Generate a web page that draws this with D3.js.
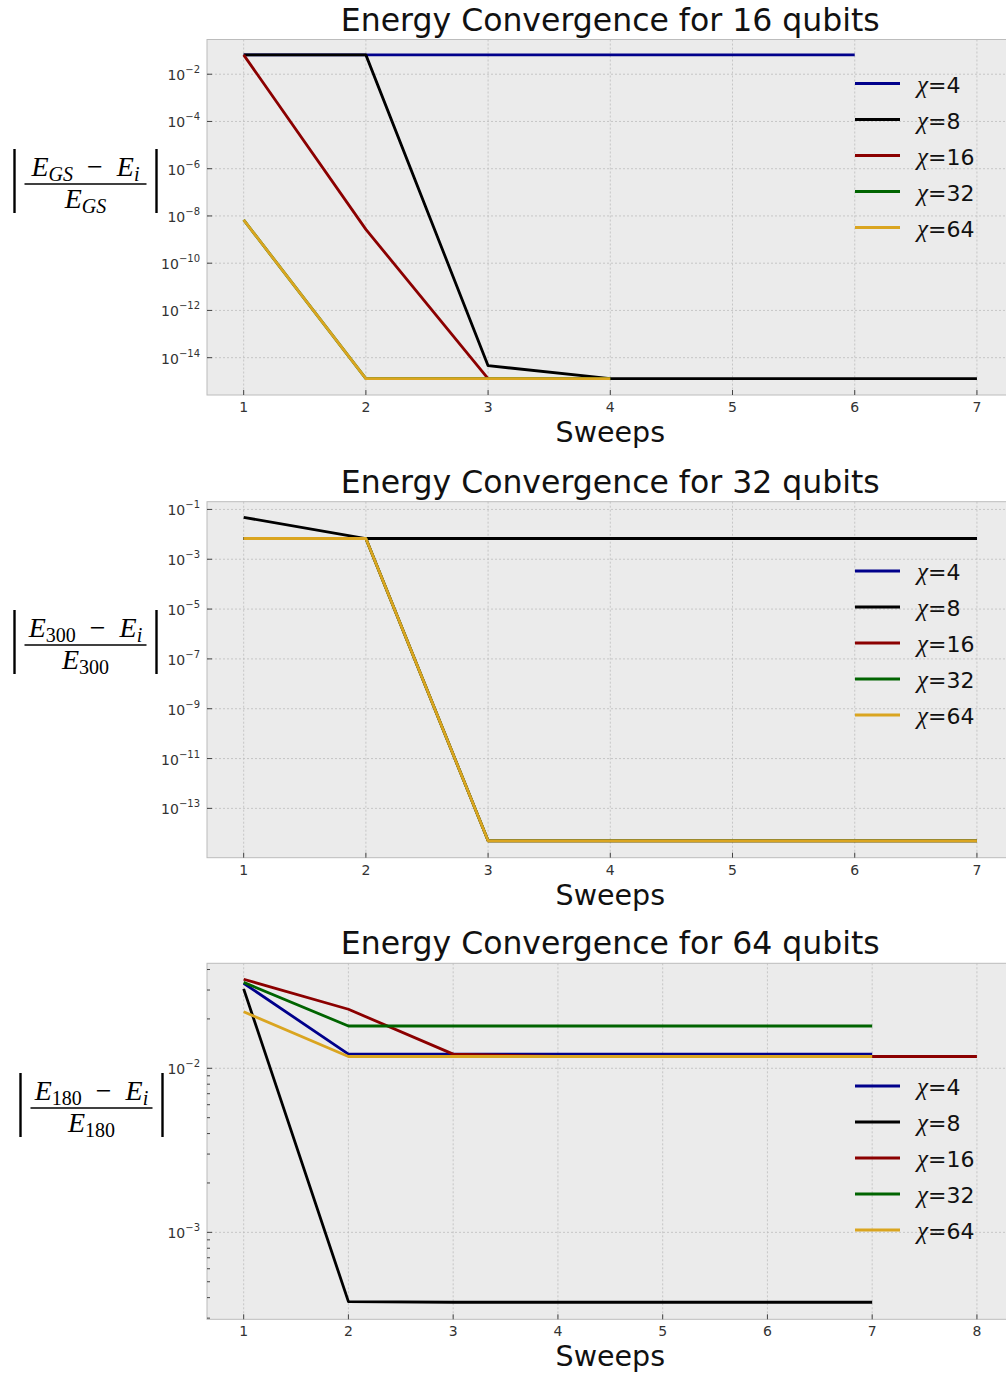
<!DOCTYPE html>
<html>
<head>
<meta charset="utf-8">
<script src="https://cdn.jsdelivr.net/npm/d3@7"></script>
<style>
  body { margin: 0; background: #fff; }
  svg { display: block; }
  .tick-label { font-family: "DejaVu Sans", sans-serif; font-size: 14px; fill: #333; }
</style>
</head>
<body>
<svg id="chart" width="1006" height="1376"></svg>
<script>
// bond dimensions and colours of the series
const chiValues = [4, 8, 16, 32, 64];
const seriesColors = ["#00008b", "#000000", "#8b0000", "#006400", "#daa520"];

// 16 qubits, relative error vs sweep (sweeps start at 1)
const q16_chi4  = [0.066, 0.066, 0.066, 0.066, 0.066, 0.066];
const q16_chi8  = [0.066, 0.066, 4.6e-15, 1.3e-15, 1.3e-15, 1.3e-15, 1.3e-15];
const q16_chi16 = [0.066, 2.7e-9, 1.3e-15];
const q16_chi32 = [6.8e-9, 1.3e-15, 1.3e-15, 1.3e-15];
const q16_chi64 = [6.8e-9, 1.3e-15, 1.3e-15, 1.3e-15];

// 32 qubits
const q32_chi4  = [0.0068, 0.0068, 0.0068, 0.0068, 0.0068, 0.0068, 0.0068];
const q32_chi8  = [0.048, 0.0068, 0.0068, 0.0068, 0.0068, 0.0068, 0.0068];
const q32_chi16 = [0.0068, 0.0068, 5e-15, 5e-15, 5e-15, 5e-15, 5e-15];
const q32_chi32 = [0.0068, 0.0068, 5e-15, 5e-15, 5e-15, 5e-15, 5e-15];
const q32_chi64 = [0.0068, 0.0068, 5e-15, 5e-15, 5e-15, 5e-15, 5e-15];

// 64 qubits
const q64_chi4  = [0.033, 0.0122, 0.0122, 0.0122, 0.0122, 0.0122, 0.0122];
const q64_chi8  = [0.0305, 3.78e-4, 3.75e-4, 3.75e-4, 3.75e-4, 3.75e-4, 3.75e-4];
const q64_chi16 = [0.0349, 0.0229, 0.0122, 0.0118, 0.0118, 0.0118, 0.0118, 0.0118];
const q64_chi32 = [0.0334, 0.0181, 0.0181, 0.0181, 0.0181, 0.0181, 0.0181];
const q64_chi64 = [0.0221, 0.0118, 0.0118, 0.0118, 0.0118, 0.0118, 0.0118];

const qubitCounts = [16, 32, 64];
const xTicks16 = [1, 2, 3, 4, 5, 6, 7];
const xTicks64 = [1, 2, 3, 4, 5, 6, 7, 8];
const yExpMajor16 = [-2, -4, -6, -8, -10, -12, -14];
const yExpMajor32 = [-1, -3, -5, -7, -9, -11, -13];
const yExpMajor64 = [-2, -3];
const labelSubscripts = ["GS", "300", "180"];

class ConvergencePlot {
    constructor(_config, _series) {
        this.config = {
            svg: _config.svg,
            id: _config.id,
            left: 207,
            right: 1013.6,
            top: _config.top,
            bottom: _config.bottom,
            xDomain: _config.xDomain,
            yDomain: _config.yDomain,
            xTicks: _config.xTicks,
            yMajor: _config.yMajor,
            yMinor: _config.yMinor || [],
            title: _config.title,
            sub: _config.sub,
            labelX: _config.labelX,
            labelY: _config.labelY,
            legendTop: _config.legendTop
        };
        this.series = _series;
        this.initVis();
        this.renderVis();
    }

    initVis() {
        let vis = this;
        let c = vis.config;
        vis.x = d3.scaleLinear().domain(c.xDomain).range([c.left, c.right]);
        vis.y = d3.scaleLog().domain(c.yDomain).range([c.bottom, c.top]);
        vis.g = c.svg.append("g");
        vis.g.append("defs").append("clipPath").attr("id", "clip" + c.id)
            .append("rect")
            .attr("x", c.left).attr("y", c.top)
            .attr("width", c.right - c.left).attr("height", c.bottom - c.top);
    }

    renderVis() {
        let vis = this;
        let c = vis.config;
        let g = vis.g;

        g.append("rect")
            .attr("x", c.left).attr("y", c.top)
            .attr("width", c.right - c.left).attr("height", c.bottom - c.top)
            .attr("fill", "#ebebeb").attr("stroke", "#bcbcbc").attr("stroke-width", 1);

        // grid
        g.append("g").selectAll("line").data(c.xTicks).join("line")
            .attr("x1", d => vis.x(d)).attr("x2", d => vis.x(d))
            .attr("y1", c.top).attr("y2", c.bottom)
            .attr("stroke", "#bdbdbd").attr("stroke-width", 0.8).attr("stroke-dasharray", "2,2");
        g.append("g").selectAll("line").data(c.yMajor).join("line")
            .attr("x1", c.left).attr("x2", c.right)
            .attr("y1", d => vis.y(Math.pow(10, d))).attr("y2", d => vis.y(Math.pow(10, d)))
            .attr("stroke", "#bdbdbd").attr("stroke-width", 0.8).attr("stroke-dasharray", "2,2");

        // ticks (inward)
        g.append("g").selectAll("line").data(c.xTicks).join("line")
            .attr("x1", d => vis.x(d)).attr("x2", d => vis.x(d))
            .attr("y1", c.bottom).attr("y2", c.bottom - 5)
            .attr("stroke", "#444").attr("stroke-width", 1);
        g.append("g").selectAll("line").data(c.yMajor).join("line")
            .attr("x1", c.left).attr("x2", c.left + 5)
            .attr("y1", d => vis.y(Math.pow(10, d))).attr("y2", d => vis.y(Math.pow(10, d)))
            .attr("stroke", "#444").attr("stroke-width", 1);
        g.append("g").selectAll("line").data(c.yMinor).join("line")
            .attr("x1", c.left).attr("x2", c.left + 3)
            .attr("y1", d => vis.y(d)).attr("y2", d => vis.y(d))
            .attr("stroke", "#444").attr("stroke-width", 1);

        // tick labels
        g.append("g").selectAll("text").data(c.xTicks).join("text")
            .attr("class", "tick-label")
            .attr("x", d => vis.x(d)).attr("y", c.bottom + 17)
            .attr("text-anchor", "middle")
            .text(d => d);
        let yl = g.append("g").selectAll("text").data(c.yMajor).join("text")
            .attr("class", "tick-label")
            .attr("x", c.left - 7).attr("y", d => vis.y(Math.pow(10, d)) + 6)
            .attr("text-anchor", "end");
        yl.append("tspan").text("10");
        yl.append("tspan").attr("dy", -7).style("font-size", "10px").text(d => "\u2212" + Math.abs(d));

        // data lines
        let line = d3.line().x((d, i) => vis.x(i + 1)).y(d => vis.y(d));
        g.append("g").attr("clip-path", "url(#clip" + c.id + ")")
            .selectAll("path").data(vis.series).join("path")
            .attr("d", d => line(d))
            .attr("fill", "none")
            .attr("stroke", (d, i) => seriesColors[i])
            .attr("stroke-width", 2.8)
            .attr("stroke-linejoin", "round");

        // title and x label
        g.append("text")
            .attr("x", (c.left + c.right) / 2).attr("y", c.top - 9)
            .attr("text-anchor", "middle")
            .style("font-family", "DejaVu Sans").style("font-size", "31.5px").attr("fill", "#111")
            .text(c.title);
        g.append("text")
            .attr("x", (c.left + c.right) / 2).attr("y", c.bottom + 47)
            .attr("text-anchor", "middle")
            .style("font-family", "DejaVu Sans").style("font-size", "28.5px").attr("fill", "#111")
            .text("Sweeps");

        // legend
        let leg = g.append("g").selectAll("g").data(chiValues).join("g")
            .attr("transform", (d, i) => `translate(855,${c.legendTop + i * 36})`);
        leg.append("line").attr("x1", 0).attr("x2", 45)
            .attr("stroke", (d, i) => seriesColors[i]).attr("stroke-width", 2.8);
        let lt = leg.append("text").attr("x", 62).attr("y", 9)
            .style("font-family", "DejaVu Sans").style("font-size", "22px").attr("fill", "#111");
        lt.append("tspan").style("font-family", "Liberation Serif").style("font-style", "italic")
            .style("font-size", "25px").text("\u03c7");
        lt.append("tspan").text(d => "=" + d);

        vis.drawYLabel();
    }

    // |(E_sub - E_i) / E_sub| drawn as a stacked fraction
    drawYLabel() {
        let vis = this;
        let c = vis.config;
        let lab = vis.g.append("g").attr("transform", `translate(${c.labelX},${c.labelY})`)
            .style("font-family", "Liberation Serif").attr("fill", "#000");
        let subItalic = isNaN(+c.sub);

        let num = lab.append("text").attr("x", 0).attr("y", -8).attr("text-anchor", "middle")
            .style("font-size", "28px");
        num.append("tspan").style("font-style", "italic").text("E");
        num.append("tspan").attr("dy", 5).style("font-size", "20px")
            .style("font-style", subItalic ? "italic" : "normal").text(c.sub);
        num.append("tspan").attr("dy", -5).text("\u2002\u2212\u2002");
        num.append("tspan").style("font-style", "italic").text("E");
        num.append("tspan").attr("dy", 5).style("font-size", "20px").style("font-style", "italic").text("i");

        let den = lab.append("text").attr("x", 0).attr("y", 24).attr("text-anchor", "middle")
            .style("font-size", "28px");
        den.append("tspan").style("font-style", "italic").text("E");
        den.append("tspan").attr("dy", 5).style("font-size", "20px")
            .style("font-style", subItalic ? "italic" : "normal").text(c.sub);

        lab.append("line").attr("x1", -61).attr("x2", 61).attr("y1", 0).attr("y2", 0)
            .attr("stroke", "#000").attr("stroke-width", 1.6);
        [-71, 71].forEach(bx => {
            lab.append("line").attr("x1", bx).attr("x2", bx).attr("y1", -35).attr("y2", 29)
                .attr("stroke", "#000").attr("stroke-width", 2.4);
        });
    }
}

const svg = d3.select("#chart");

function minorTicks(lo, hi) {
    let out = [];
    for (let e = lo; e <= hi; e++) {
        for (let m = 2; m <= 9; m++) out.push(m * Math.pow(10, e));
    }
    return out;
}

new ConvergencePlot({
    svg: svg, id: 1, top: 39.5, bottom: 395,
    xDomain: [0.7, 7.3], yDomain: [Math.pow(10, -15.58), Math.pow(10, -0.53)],
    xTicks: xTicks16, yMajor: yExpMajor16,
    title: "Energy Convergence for " + qubitCounts[0] + " qubits",
    sub: labelSubscripts[0], labelX: 85.5, labelY: 184, legendTop: 83.5
}, [q16_chi4, q16_chi8, q16_chi16, q16_chi32, q16_chi64]);

new ConvergencePlot({
    svg: svg, id: 2, top: 501.7, bottom: 857.7,
    xDomain: [0.7, 7.3], yDomain: [Math.pow(10, -14.98), Math.pow(10, -0.69)],
    xTicks: xTicks16, yMajor: yExpMajor32,
    title: "Energy Convergence for " + qubitCounts[1] + " qubits",
    sub: labelSubscripts[1], labelX: 85.5, labelY: 645, legendTop: 571
}, [q32_chi4, q32_chi8, q32_chi16, q32_chi32, q32_chi64]);

new ConvergencePlot({
    svg: svg, id: 3, top: 963.3, bottom: 1319.3,
    xDomain: [0.65, 8.35], yDomain: [Math.pow(10, -3.53), Math.pow(10, -1.36)],
    xTicks: xTicks64, yMajor: yExpMajor64,
    yMinor: minorTicks(-4, -2).filter(v => v > Math.pow(10, -3.53) && v < Math.pow(10, -1.36)),
    title: "Energy Convergence for " + qubitCounts[2] + " qubits",
    sub: labelSubscripts[2], labelX: 91.5, labelY: 1108, legendTop: 1086
}, [q64_chi4, q64_chi8, q64_chi16, q64_chi32, q64_chi64]);
</script>
</body>
</html>
